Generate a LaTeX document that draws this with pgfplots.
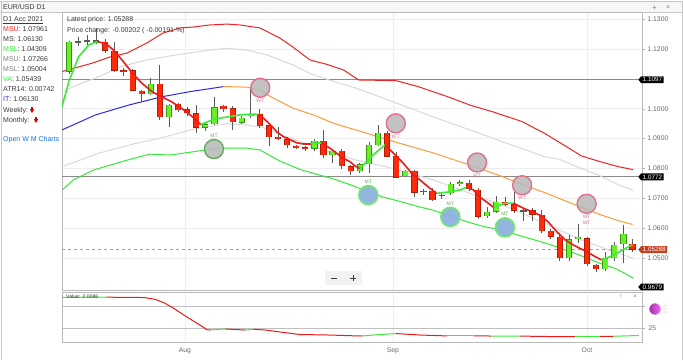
\documentclass[border=0pt]{standalone}
\usepackage{fontspec}
\setmainfont{Liberation Sans}
\usepackage{pgfplots}
\usepackage{pgfplotstable}
\pgfplotsset{compat=1.18}
\usetikzlibrary{shapes.symbols}

\definecolor{candred}{HTML}{FF2A0A}
\definecolor{candredd}{HTML}{B01C06}
\definecolor{candgrn}{HTML}{6AEE26}
\definecolor{candgrnd}{HTML}{3A9414}
\definecolor{wickgray}{HTML}{5A5A5A}
\definecolor{bandred}{HTML}{EE2424}
\definecolor{bandgray}{HTML}{D9D9D9}
\definecolor{itblue}{HTML}{2B2BE6}
\definecolor{itorange}{HTML}{FF9A3C}
\definecolor{bandgrn}{HTML}{38E838}
\definecolor{vared}{HTML}{EE1A1A}
\definecolor{vagrn}{HTML}{3DEB3D}
\definecolor{wtpink}{HTML}{E0708C}
\definecolor{mtgrn}{HTML}{5DAE5D}
\definecolor{mtblue}{HTML}{8FB2E0}
\definecolor{mtring}{HTML}{6EEA6E}
\definecolor{txtgray}{HTML}{3A3A3A}
\definecolor{tickgray}{HTML}{6A6A6A}
\definecolor{tagred}{HTML}{C2411E}
\definecolor{linkblue}{HTML}{1A6FE0}
\definecolor{lvlgray}{HTML}{8A8A8A}
\definecolor{circgray}{HTML}{B8B8B8}

% candles: index, open, high, low, close
\pgfplotstableread{
i o h l c
0 1.1124 1.1228 1.1115 1.1223
9 1.1048 1.1102 1.1045 1.1083
11 1.0971 1.1015 1.0940 1.1012
15 1.0936 1.0955 1.0925 1.0948
16 1.0948 1.1040 1.0945 1.1005
19 1.0953 1.0975 1.0950 1.0970
20 1.0974 1.1065 1.0970 1.0982
27 1.0866 1.0900 1.0860 1.0892
29 1.0844 1.0865 1.0820 1.0860
32 1.0792 1.0820 1.0785 1.0814
33 1.0815 1.0890 1.0784 1.0879
34 1.0879 1.0945 1.0875 1.0920
37 1.0775 1.0795 1.0770 1.0792
42 1.0717 1.0755 1.0712 1.0748
43 1.0750 1.0762 1.0740 1.0753
46 1.0641 1.0670 1.0635 1.0655
47 1.0656 1.0708 1.0650 1.0689
55 1.0500 1.0578 1.0490 1.0563
56 1.0565 1.0615 1.0550 1.0572
59 1.0464 1.0520 1.0458 1.0500
60 1.0501 1.0555 1.0490 1.0544
61 1.0546 1.0610 1.0484 1.0582
}\greentab

\pgfplotstableread{
i o h l c
4 1.1223 1.1232 1.1188 1.1194
5 1.1194 1.1224 1.1124 1.1127
6 1.1128 1.1136 1.1109 1.1122
7 1.1129 1.1132 1.1058 1.1060
8 1.1060 1.1062 1.1023 1.1048
10 1.1083 1.1146 1.0962 1.0971
12 1.1016 1.1020 1.0990 1.0996
13 1.0998 1.1005 1.0975 1.0985
14 1.0985 1.1012 1.0919 1.0936
17 1.1009 1.1012 1.0990 1.0999
18 1.1001 1.1009 1.0929 1.0954
21 1.0982 1.0999 1.0935 1.0942
22 1.0945 1.0952 1.0875 1.0904
23 1.0905 1.0940 1.0895 1.0900
24 1.0898 1.0905 1.0870 1.0879
25 1.0875 1.0880 1.0865 1.0871
26 1.0871 1.0875 1.0858 1.0867
28 1.0892 1.0929 1.0835 1.0845
30 1.0860 1.0865 1.0800 1.0808
31 1.0807 1.0812 1.0780 1.0792
35 1.0920 1.0925 1.0838 1.0840
36 1.0842 1.0855 1.0768 1.0769
38 1.0792 1.0796 1.0705 1.0719
39 1.0726 1.0730 1.0710 1.0721
40 1.0725 1.0735 1.0690 1.0695
44 1.0752 1.0762 1.0725 1.0730
45 1.0728 1.0735 1.0630 1.0639
48 1.0689 1.0705 1.0675 1.0678
49 1.0680 1.0720 1.0650 1.0659
51 1.0660 1.0668 1.0625 1.0645
52 1.0645 1.0660 1.0585 1.0591
53 1.0592 1.0598 1.0565 1.0572
54 1.0572 1.0578 1.0490 1.0500
57 1.0566 1.0570 1.0475 1.0480
58 1.0477 1.0482 1.0455 1.0464
62 1.0548 1.0565 1.0520 1.0529
}\redtab

\pgfplotstableread{
i o h l c
1 1.1222 1.1240 1.1210 1.1226
2 1.1226 1.1245 1.1212 1.1230
3 1.1230 1.1270 1.1215 1.1226
41 1.0710 1.0722 1.0698 1.0712
50 1.0657 1.0668 1.0625 1.0660
}\dojitab

\newcommand{\wicks}[1]{%
\addplot[draw=none, mark=none, forget plot, error bars/.cd, y dir=both, y explicit, error mark=none,
  error bar style={line width=0.8pt, draw=wickgray}]
  table[x=i, y expr={(\thisrow{h}+\thisrow{l})/2}, y error expr={(\thisrow{h}-\thisrow{l})/2}] {#1};}
\newcommand{\bodies}[3]{%
\addplot[draw=none, mark=none, forget plot, error bars/.cd, y dir=both, y explicit, error mark=none,
  error bar style={line width=6.2pt, draw=#2}]
  table[x=i, y expr={(\thisrow{o}+\thisrow{c})/2}, y error expr={max(abs(\thisrow{o}-\thisrow{c})/2,0.00017)}] {#1};
\addplot[draw=none, mark=none, forget plot, error bars/.cd, y dir=both, y explicit, error mark=none,
  error bar style={line width=4.6pt, draw=#3}]
  table[x=i, y expr={(\thisrow{o}+\thisrow{c})/2}, y error expr={max(abs(\thisrow{o}-\thisrow{c})/2-0.00012,0.00001)}] {#1};}

\begin{document}
\begin{tikzpicture}
\path[use as bounding box, fill=white] (0pt,0pt) rectangle (683pt,360pt);
% header
\fill[gray!7] (0pt,348pt) rectangle (683pt,359pt);
\draw[gray!45, line width=0.6pt] (0pt,359pt) -- (683pt,359pt);
\draw[gray!45, line width=0.6pt] (0pt,348pt) -- (683pt,348pt);
\draw[gray!45, line width=0.6pt] (1pt,0pt) -- (1pt,359pt);
\draw[gray!45, line width=0.6pt] (682pt,0pt) -- (682pt,359pt);

\begin{axis}[
  at={(62pt,70pt)}, anchor=south west,
  width=580pt, height=278pt, scale only axis,
  xmin=-0.77, xmax=63.04, ymin=1.03936, ymax=1.13234,
  axis line style={draw=gray!55},
  xtick={12.76,35.64,56.99}, xticklabels={}, xtick style={draw=none},
  xmajorgrids, ymajorgrids,
  major grid style={draw=gray!13, line width=0.5pt},
  ytick={1.05,1.06,1.07,1.08,1.09,1.10,1.11,1.12,1.13},
  yticklabels={1.0500,1.0600,1.0700,1.0800,1.0900,1.1000,{},1.1200,1.1300},
  ytick pos=right, yticklabel pos=right,
  ytick style={draw=gray!60}, tick align=outside, major tick length=3pt,
  yticklabel style={font=\fontsize{6.8}{7}\selectfont, text=tickgray, xshift=-1pt},
]
% level lines
\addplot[lvlgray, line width=1.1pt, forget plot] coordinates {(-0.77,1.1097) (63.04,1.1097)};
\addplot[lvlgray, line width=1.1pt, forget plot] coordinates {(-0.77,1.0772) (63.04,1.0772)};
\addplot[tagred!60, dashed, line width=0.6pt, forget plot] coordinates {(-0.77,1.05288) (63.04,1.05288)};

% upper red band
\addplot[bandred, line width=1pt] coordinates {
(-0.77,1.1124) (2.64,1.1153) (4.51,1.1173) (6.38,1.1186) (8.58,1.1220) (10.34,1.1253)
(12.21,1.1270) (13.64,1.1273) (15.51,1.1280) (17.38,1.1283) (18.81,1.1280) (21.01,1.1270)
(23.21,1.1236) (24.64,1.1206) (26.51,1.1163) (28.4,1.1148) (30.23,1.1129) (31.86,1.1096)
(35.95,1.1094) (38.40,1.1074) (41.67,1.1040) (44.12,1.1012) (46.57,1.0990) (49.84,1.0957)
(52.29,1.0918) (54.74,1.0873) (56.37,1.0842) (58.42,1.0823) (60.46,1.0806) (62.09,1.0796)};
% upper gray band
\addplot[bandgray, line width=1pt] coordinates {
(-0.77,1.1057) (1.0,1.1080) (3.3,1.1107) (5.61,1.1140) (8.55,1.1163) (11.85,1.1180)
(15.51,1.1196) (17.35,1.1202) (19.55,1.1196) (21.75,1.1180) (24.68,1.1146) (26.51,1.1118)
(29.0,1.1092) (31.86,1.1066) (35.13,1.1029) (40.03,1.0973) (44.12,1.0929) (48.20,1.0884)
(52.29,1.0840) (54.0,1.0830) (56.37,1.0800) (58.4,1.0776) (60.46,1.0745) (62.09,1.0727)};
% IT blue then orange
\addplot[itblue, line width=1pt] coordinates {
(-0.77,1.0929) (2.9,1.0979) (6.56,1.1012) (10.23,1.1040) (13.5,1.1058) (15.73,1.1068) (17.0,1.1074)};
\addplot[itorange, line width=1pt] coordinates {
(17.0,1.1074) (19.6,1.1072) (21.0,1.1062) (22.5,1.1035) (24.7,1.1001) (27.0,1.0978)
(29.1,1.0951) (32.75,1.0918) (36.4,1.0884) (40.1,1.0852) (43.75,1.0815) (47.4,1.0776)
(50.0,1.0745) (52.55,1.0717) (56.2,1.0672) (58.5,1.0645) (60.5,1.0625) (62.0,1.0613)};
% lower gray band
\addplot[bandgray, line width=1pt] coordinates {
(-0.77,1.0806) (3.27,1.0851) (7.35,1.0884) (10.0,1.0901) (13.5,1.0930) (17.35,1.0950)
(19.55,1.0945) (21.24,1.0938) (22.85,1.0918) (26.5,1.0879) (29.0,1.0852) (31.86,1.0826)
(35.13,1.0804) (40.03,1.0762) (44.12,1.0717) (48.20,1.0672) (52.29,1.0617) (56.37,1.0561)
(60.46,1.0516) (62.09,1.0500)};
% lower green band
\addplot[bandgrn, line width=1pt] coordinates {
(-0.77,1.0728) (0.5,1.0762) (2.7,1.0795) (6.4,1.0828) (8.9,1.0848) (11.1,1.0845)
(13.7,1.0856) (16.3,1.0868) (19.6,1.0868) (21.0,1.0862) (23.2,1.0825) (25.4,1.0797)
(27.8,1.0776) (29.1,1.0765) (31.0,1.0745) (32.9,1.0722) (34.5,1.0705) (36.4,1.0690)
(38.5,1.0672) (40.1,1.0660) (42.0,1.0640) (44.0,1.0620) (45.6,1.0606) (48.0,1.0592)
(49.3,1.0578) (52.7,1.0548) (56.2,1.0510) (58.4,1.0483) (59.9,1.0468) (61.0,1.0452) (62.1,1.0433)};

% candles
\wicks{\greentab}\wicks{\redtab}\wicks{\dojitab}
\bodies{\greentab}{candgrnd}{candgrn}
\bodies{\redtab}{candredd}{candred}
\bodies{\dojitab}{wickgray}{wickgray}

% VA line segments
\addplot[vagrn, line width=1.6pt] coordinates {(-0.77,1.1007) (0.04,1.1096) (1.07,1.1174) (2.17,1.1213) (3.08,1.1224)};
\addplot[vared, line width=1.6pt] coordinates {(3.08,1.1224) (4.0,1.1219) (4.9,1.1196) (6.0,1.1157) (7.0,1.1118) (8.03,1.1085) (9.13,1.1057) (10.2,1.1040) (11.3,1.1023) (12.4,1.1001) (13.5,1.0975) (14.5,1.0947)};
\addplot[vagrn, line width=1.6pt] coordinates {(14.5,1.0947) (15.9,1.0965) (17.35,1.0972) (18.8,1.0979) (19.9,1.0982) (20.8,1.0981)};
\addplot[vared, line width=1.6pt] coordinates {(20.8,1.0981) (21.4,1.0968) (22.1,1.0948) (22.85,1.0923) (23.6,1.0906) (24.3,1.0897) (25.05,1.0886) (25.8,1.0882) (26.6,1.0882)};
\addplot[vagrn, line width=1.6pt] coordinates {(26.6,1.0882) (27.1,1.0886) (27.8,1.0885)};
\addplot[vared, line width=1.6pt] coordinates {(27.8,1.0885) (28.7,1.0868) (29.45,1.0851) (30.2,1.0834) (30.9,1.0823) (31.5,1.0808) (32.0,1.0800)};
\addplot[vagrn, line width=1.6pt] coordinates {(32.0,1.0800) (32.9,1.0828) (33.85,1.0856) (34.8,1.0879)};
\addplot[vared, line width=1.6pt] coordinates {(34.8,1.0879) (35.7,1.0851) (36.8,1.0817) (37.7,1.0784) (38.6,1.0762) (39.7,1.0734) (40.45,1.0717)};
\addplot[vagrn, line width=1.6pt] coordinates {(40.45,1.0717) (41.9,1.0722) (43.0,1.0728) (43.75,1.0737)};
\addplot[vared, line width=1.6pt] coordinates {(43.75,1.0737) (44.5,1.0728) (45.2,1.0704) (45.95,1.0688) (46.7,1.0670)};
\addplot[vagrn, line width=1.6pt] coordinates {(46.7,1.0670) (48.0,1.0684) (48.9,1.0684)};
\addplot[vared, line width=1.6pt] coordinates {(48.9,1.0684) (50.0,1.0667) (50.9,1.0656) (51.8,1.0644) (52.7,1.0622) (53.65,1.0589) (54.6,1.0561) (55.5,1.0544) (56.2,1.0533) (56.95,1.0522) (57.9,1.0505) (58.6,1.0494)};
\addplot[vagrn, line width=1.6pt] coordinates {(58.6,1.0494) (59.5,1.0505) (60.6,1.0522) (61.7,1.0541) (62.0,1.0544)};

% signal circles
\addplot[only marks, mark=*, mark size=9.5pt, mark options={fill=circgray, draw=wtpink, line width=1.4pt, fill opacity=0.85}]
  coordinates {(21.04,1.1070) (35.95,1.0951) (44.9,1.0820) (49.85,1.0744) (56.95,1.0682)};
\addplot[only marks, mark=*, mark size=9.5pt, mark options={fill=circgray, draw=mtgrn, line width=1.4pt, fill opacity=0.85}]
  coordinates {(15.95,1.0865)};
\addplot[only marks, mark=*, mark size=9.5pt, mark options={fill=mtblue, draw=mtring, line width=1.6pt, fill opacity=0.95}]
  coordinates {(32.93,1.0711) (41.95,1.0638) (47.96,1.0603)};

\begin{scope}[every node/.style={font=\fontsize{5}{5}\selectfont, inner sep=0pt}]
\node[text=wtpink] at (axis cs:21.04,1.1070) [yshift=-13pt] {WT};
\node[text=wtpink] at (axis cs:35.95,1.0951) [yshift=-13pt] {WT};
\node[text=wtpink] at (axis cs:44.9,1.0820) [yshift=-13pt] {WT};
\node[text=wtpink] at (axis cs:49.85,1.0744) [yshift=-13pt] {WT};
\node[text=wtpink] at (axis cs:56.95,1.0682) [yshift=-13pt] {WT};
\node[text=wtpink] at (axis cs:56.95,1.0682) [yshift=-19pt] {WT};
\node[text=mtgrn] at (axis cs:15.95,1.0865) [yshift=13.5pt] {MT};
\node[text=mtgrn] at (axis cs:32.93,1.0711) [yshift=13.5pt] {MT};
\node[text=mtgrn] at (axis cs:41.95,1.0638) [yshift=13.5pt] {MT};
\node[text=mtgrn] at (axis cs:47.96,1.0603) [yshift=13.5pt] {MT};
\end{scope}

\coordinate (tagA) at (axis cs:63.04,1.1097);
\coordinate (tagB) at (axis cs:63.04,1.0772);
\coordinate (tagC) at (axis cs:63.04,1.05288);
\end{axis}

% lower indicator panel
\begin{axis}[
  at={(62pt,18pt)}, anchor=south west,
  width=580pt, height=50pt, scale only axis,
  xmin=-0.77, xmax=63.04, ymin=9.09, ymax=65.9,
  axis line style={draw=gray!55},
  xtick={12.76,35.64,56.99}, xticklabels={Aug,Sep,Oct}, xtick style={draw=none},
  xticklabel style={font=\fontsize{6.8}{7}\selectfont, text=tickgray, yshift=1pt},
  xmajorgrids,
  major grid style={draw=gray!13, line width=0.5pt},
  ytick={25,50}, yticklabels={25,{}},
  ytick pos=right, yticklabel pos=right,
  ytick style={draw=gray!60}, tick align=outside, major tick length=3pt,
  yticklabel style={font=\fontsize{6.8}{7}\selectfont, text=tickgray},
  ymajorgrids, ymajorgrids, y grid style={draw=gray!50, line width=0.6pt},
]
\addplot[vagrn, line width=1pt] coordinates {(-0.77,59.7) (3.4,60.2) (4.1,60.0)};
\addplot[vared, line width=1pt] coordinates {(4.1,60.0) (7.8,59.7) (8.4,59.4) (9.5,57.5) (10.5,53.5) (11.5,47.5) (12.8,38.6) (14.4,28.4) (15.2,22.9) (15.6,22.8)};
\addplot[vagrn, line width=1pt] coordinates {(15.6,22.8) (17.2,23.9)};
\addplot[vared, line width=1pt] coordinates {(17.2,23.9) (19.4,22.7)};
\addplot[vagrn, line width=1pt] coordinates {(19.4,22.7) (20.3,23.5)};
\addplot[vared, line width=1pt] coordinates {(20.3,23.5) (21.6,22.7) (23.2,20.5) (25.4,17.6) (28.7,17.0) (32.0,15.9) (32.3,16.0)};
\addplot[vagrn, line width=1pt] coordinates {(32.3,16.0) (34.2,17.6) (36.0,18.7)};
\addplot[vared, line width=1pt] coordinates {(36.0,18.7) (38.6,17.0) (41.6,16.0)};
\addplot[vagrn, line width=1pt] coordinates {(41.6,16.0) (44.5,16.0)};
\addplot[vared, line width=1pt] coordinates {(44.5,16.0) (46.4,15.9)};
\addplot[vagrn, line width=1pt] coordinates {(46.4,15.9) (49.6,15.8)};
\addplot[vared, line width=1pt] coordinates {(49.6,15.8) (52.9,15.3) (55.7,15.3)};
\addplot[vagrn, line width=1pt] coordinates {(55.7,15.3) (58.4,15.3)};
\addplot[vared, line width=1pt] coordinates {(58.4,15.3) (59.9,15.6)};
\addplot[vagrn, line width=1pt] coordinates {(59.9,15.6) (62.7,16.5)};
\end{axis}

% price tags
\begin{scope}[every node/.style={signal, signal to=west, signal pointer angle=100, inner xsep=1.6pt, inner ysep=1.2pt,
    font=\fontsize{6.3}{6.5}\selectfont, text=white, anchor=west}]
\node[fill=black] at ([xshift=-4pt]tagA) {1.1097};
\node[fill=black] at ([xshift=-4pt]tagB) {1.0772};
\node[fill=tagred] at ([xshift=-4pt]tagC) {1.05288};
\node[fill=black] at (638pt,73pt) {0.9679};
\end{scope}

% texts in the chart
\begin{scope}[every node/.style={anchor=west, inner sep=0pt, font=\fontsize{7}{8}\selectfont, text=txtgray}]
\node at (3pt,353.5pt) {EUR/USD D1};
\node at (67pt,340pt) {Latest price: 1.05288};
\node at (67pt,329.5pt) {Price change: -0.00202 ( -0.00191 \%)};
\node at (3pt,340pt) {\underline{D1 Acc 2021}};
\node at (3pt,330.7pt) {\textcolor{bandred}{MSU}: 1.07961};
\node at (3pt,320.7pt) {MS: 1.06130};
\node at (3pt,310.7pt) {\textcolor{bandgrn}{MSL}: 1.04309};
\node at (3pt,300.7pt) {\textcolor{gray}{MSU}: 1.07266};
\node at (3pt,290.7pt) {\textcolor{gray}{MSL}: 1.05004};
\node at (3pt,280.7pt) {\textcolor{bandgrn}{VA}: 1.05439};
\node at (3pt,270.7pt) {ATR14: 0.00742};
\node at (3pt,260.7pt) {\textcolor{itblue}{IT}: 1.06130};
\node at (3pt,249pt) {Weekly:};
\node at (3pt,239pt) {Monthly:};
\node[text=linkblue] at (3pt,220.5pt) {Open W M Charts};
\node[font=\fontsize{5.2}{6}\selectfont] at (66pt,63pt) {Value: 2.0086};
\node[text=gray, font=\fontsize{8}{8}\selectfont] at (652pt,352pt) {+};
\node[text=gray, font=\fontsize{7}{8}\selectfont] at (666pt,352pt) {×};
\node[text=gray, font=\fontsize{6.5}{8}\selectfont] at (619pt,63pt) {↑};
\node[text=gray, font=\fontsize{6.5}{8}\selectfont] at (633pt,63pt) {×};
\end{scope}
% weekly / monthly arrows
\fill[red!85!black] (31.2pt,253pt) rectangle (32.8pt,250.5pt);
\fill[red!85!black] (29.8pt,251pt) -- (34.2pt,251pt) -- (32pt,246.8pt) -- cycle;
\fill[red!85!black] (35.2pt,243pt) rectangle (36.8pt,240.5pt);
\fill[red!85!black] (33.8pt,241pt) -- (38.2pt,241pt) -- (36pt,236.8pt) -- cycle;
% zoom buttons
\fill[gray!10] (325pt,75pt) rectangle (362pt,89pt);
\draw[txtgray, line width=0.8pt] (331pt,82pt) -- (337pt,82pt);
\draw[txtgray, line width=0.8pt] (350pt,82pt) -- (356pt,82pt) (353pt,79pt) -- (353pt,85pt);
% indicator icon
\shade[left color=violet!80, right color=magenta!60, draw=white, line width=0.4pt] (655pt,51pt) circle (6pt);
\foreach \yy in {48,51,54} {\fill[gray!70] (664pt,\yy pt) circle (0.5pt); \fill[gray!70] (666pt,\yy pt) circle (0.5pt);}
\end{tikzpicture}
\end{document}
